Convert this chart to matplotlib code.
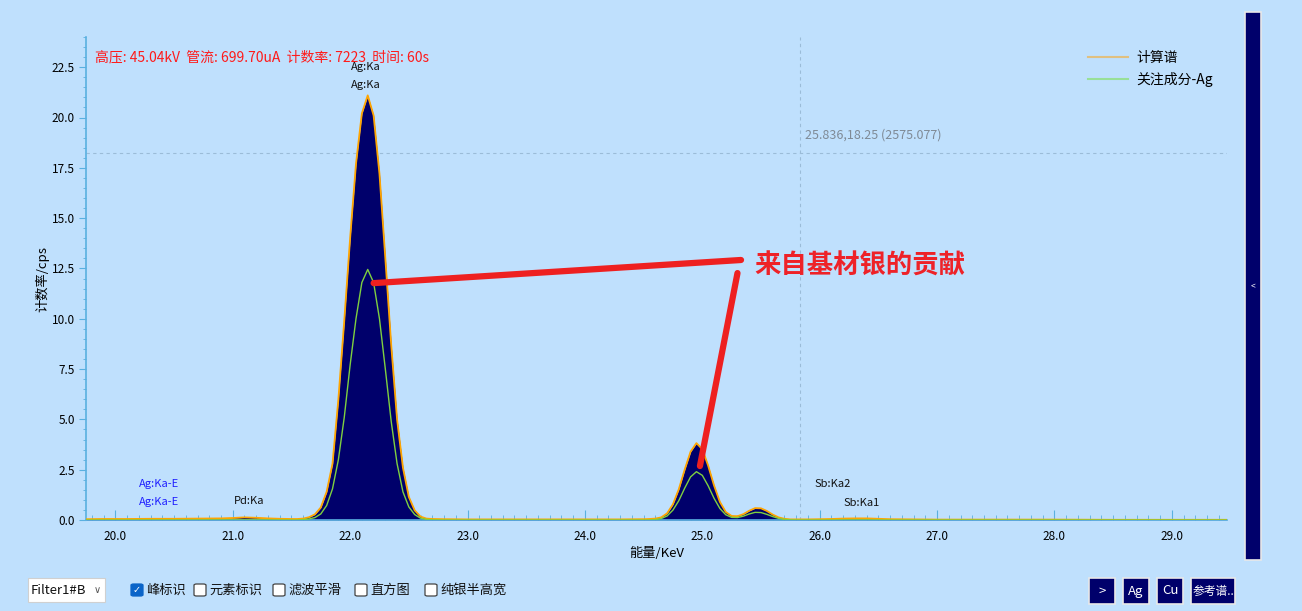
import matplotlib
matplotlib.use('Agg')
import matplotlib.pyplot as plt
from matplotlib.patches import Rectangle, FancyBboxPatch
from matplotlib.ticker import MultipleLocator, FormatStrFormatter

plt.rcParams['font.family'] = ['Noto Sans CJK SC', 'DejaVu Sans']

# 能量 (keV)
energy = [19.75, 19.90, 20.10, 20.30, 20.50, 20.70, 20.90, 21.00, 21.10, 21.20, 21.30, 21.40, 21.50, 21.55,
          21.60, 21.65, 21.70, 21.75, 21.80, 21.85, 21.90, 21.95, 22.00, 22.05, 22.10, 22.15, 22.20, 22.25,
          22.30, 22.35, 22.40, 22.45, 22.50, 22.55, 22.60, 22.65,
          22.70, 22.80, 23.00, 23.30, 23.60, 24.00, 24.30, 24.50, 24.55,
          24.60, 24.65, 24.70, 24.75, 24.80, 24.85, 24.90, 24.95, 25.00, 25.05, 25.10, 25.15, 25.20, 25.25,
          25.30, 25.35, 25.40, 25.45, 25.50, 25.55, 25.60, 25.65, 25.70, 25.75,
          25.80, 25.90, 26.00, 26.10, 26.20, 26.30, 26.40, 26.50, 26.60, 26.80, 27.00, 27.50, 28.00, 28.50,
          29.00, 29.47]

# 计数率 (cps) - 谱图
counts = [0.04, 0.05, 0.05, 0.06, 0.06, 0.07, 0.08, 0.10, 0.13, 0.11, 0.08, 0.06, 0.05, 0.05,
          0.07, 0.14, 0.28, 0.62, 1.40, 2.80, 6.00, 9.90, 14.0, 17.7, 20.2, 21.1, 20.1, 17.2,
          13.0, 8.70, 5.00, 2.60, 1.15, 0.48, 0.17, 0.07,
          0.05, 0.04, 0.03, 0.03, 0.03, 0.03, 0.03, 0.04, 0.05,
          0.07, 0.13, 0.33, 0.78, 1.53, 2.50, 3.39, 3.82, 3.52, 2.70, 1.72, 0.90, 0.40, 0.20,
          0.19, 0.29, 0.46, 0.59, 0.58, 0.45, 0.27, 0.13, 0.06, 0.03,
          0.03, 0.03, 0.04, 0.05, 0.07, 0.08, 0.08, 0.06, 0.04, 0.03, 0.02, 0.02, 0.02, 0.01,
          0.01, 0.01]

# 关注成分 - Ag
ag_counts = [0, 0, 0, 0, 0, 0, 0, 0, 0, 0, 0, 0, 0, 0,
             0.02, 0.05, 0.12, 0.30, 0.72, 1.55, 3.00, 5.10, 7.70, 10.0, 11.8, 12.45, 11.8, 10.0,
             7.50, 4.90, 2.80, 1.40, 0.65, 0.27, 0.09, 0.03,
             0.01, 0, 0, 0, 0, 0, 0, 0, 0,
             0.02, 0.07, 0.20, 0.49, 0.96, 1.58, 2.14, 2.40, 2.22, 1.70, 1.08, 0.57, 0.26, 0.13,
             0.12, 0.19, 0.30, 0.38, 0.37, 0.28, 0.17, 0.08, 0.03, 0.01,
             0, 0, 0, 0, 0, 0, 0, 0, 0, 0, 0, 0, 0, 0,
             0, 0]

# 峰标识
peak_labels = ['Ag:Ka', 'Ag:Ka', 'Ag:Ka-E', 'Ag:Ka-E', 'Pd:Ka', 'Sb:Ka2', 'Sb:Ka1']
peak_x = [22.13, 22.13, 20.37, 20.37, 21.14, 26.11, 26.36]
peak_y = [22.5, 21.6, 1.8, 0.9, 0.95, 1.8, 0.85]
peak_colors = ['#111111', '#111111', '#2020ff', '#2020ff', '#111111', '#111111', '#111111']

cursor_x, cursor_y = 25.836, 18.25

# 注释线
arrow1_x, arrow1_y = [22.20, 25.33], [11.77, 12.92]
arrow2_x, arrow2_y = [24.98, 25.30], [2.68, 12.27]

checkboxes = ['峰标识', '元素标识', '滤波平滑', '直方图', '纯银半高宽']
checkbox_px = [131, 194, 273, 355, 425]
buttons = ['>', 'Ag', 'Cu', '参考谱..']
button_px = [(1089, 26), (1123, 26), (1157, 26), (1191, 44)]

W, H = 1302, 611
bg = '#bfe0fd'
navy = '#00006b'
axis_blue = '#5ab0e0'

fig = plt.figure(figsize=(W / 100, H / 100), dpi=100, facecolor=bg)
ax = fig.add_axes([86 / W, 1 - 520 / H, (1227 - 86) / W, (520 - 37) / H])
ax.set_facecolor(bg)

ax.fill_between(energy, counts, 0, color=navy, lw=0, zorder=2)
ax.plot(energy, counts, color='#ffa500', lw=1.3, zorder=3, label='计算谱')
ax.plot(energy, ag_counts, color='#7ed040', lw=1.0, zorder=4, label='关注成分-Ag')

ax.set_xlim(19.75, 29.47)
ax.set_ylim(0, 24.0)

for s in ['top', 'right']:
    ax.spines[s].set_visible(False)
for s in ['left', 'bottom']:
    ax.spines[s].set_color(axis_blue)
    ax.spines[s].set_linewidth(1.2)

ax.xaxis.set_major_locator(MultipleLocator(1.0))
ax.xaxis.set_minor_locator(MultipleLocator(0.1))
ax.yaxis.set_major_locator(MultipleLocator(2.5))
ax.yaxis.set_minor_locator(MultipleLocator(0.5))
ax.xaxis.set_major_formatter(FormatStrFormatter('%.1f'))
ax.yaxis.set_major_formatter(FormatStrFormatter('%.1f'))
ax.tick_params(axis='x', which='major', direction='in', length=7, color=axis_blue, labelsize=8.5, pad=7)
ax.tick_params(axis='x', which='minor', direction='in', length=3.5, color=axis_blue)
ax.tick_params(axis='y', which='major', direction='out', length=5, color=axis_blue, labelsize=8.5, pad=3)
ax.tick_params(axis='y', which='minor', direction='out', length=2.5, color=axis_blue)

ax.set_xlabel('能量/KeV', fontsize=9.5, labelpad=3)
ax.set_ylabel('计数率/cps', fontsize=9.5, labelpad=2)

# 十字光标
ax.axvline(cursor_x, color='#9bbcd8', lw=0.8, ls=(0, (3, 3)), zorder=1)
ax.axhline(cursor_y, color='#9bbcd8', lw=0.8, ls=(0, (3, 3)), zorder=1)
ax.text(cursor_x + 0.04, cursor_y + 0.55, '25.836,18.25 (2575.077)', color='#7f8a96', fontsize=9,
        va='bottom', ha='left')

ax.text(0.008, 0.957, '高压: 45.04kV  管流: 699.70uA  计数率: 7223  时间: 60s',
        transform=ax.transAxes, color='#ff1a1a', fontsize=10, va='center', ha='left')

for lab, px, py, c in zip(peak_labels, peak_x, peak_y, peak_colors):
    ax.text(px, py, lab, color=c, fontsize=8, ha='center', va='center', zorder=5)

ax.plot(arrow1_x, arrow1_y, color='#ee2020', lw=4.5, solid_capstyle='round', zorder=6)
ax.plot(arrow2_x, arrow2_y, color='#ee2020', lw=4.5, solid_capstyle='round', zorder=6)
ax.text(25.44, 12.6, '来自基材银的贡献', color='#ee2228', fontsize=19, fontweight='bold',
        ha='left', va='center', zorder=6)

leg = ax.legend(loc='upper left', bbox_to_anchor=(1088 / W, 1 - 51 / H), bbox_transform=fig.transFigure,
                frameon=False, fontsize=10, handlelength=2.9, handletextpad=0.6, labelspacing=0.5,
                borderaxespad=0, borderpad=0)
leg.get_lines()[0].set_color('#e0c080')
leg.get_lines()[1].set_color('#98e098')
for ln in leg.get_lines():
    ln.set_linewidth(1.5)


def fx(x):
    return x / W


def fy(y):
    return 1 - y / H


# 右侧折叠栏
fig.add_artist(Rectangle((fx(1245), fy(560)), 16 / W, 548 / H, transform=fig.transFigure,
                         facecolor=navy, edgecolor='#e8e8e8', lw=1.2))
fig.text(fx(1253), fy(287), '<', color='white', fontsize=6, ha='center', va='center')

# 下拉框
fig.add_artist(Rectangle((fx(28), fy(602)), 77 / W, 24 / H, transform=fig.transFigure,
                         facecolor='white', edgecolor='#d0d0d0', lw=0.8))
fig.text(fx(31), fy(590), 'Filter1#B', color='#111111', fontsize=9.5, ha='left', va='center')
fig.text(fx(97), fy(590), '∨', color='#555555', fontsize=7, ha='center', va='center', family='DejaVu Sans')

# 复选框
for i, (lab, px) in enumerate(zip(checkboxes, checkbox_px)):
    checked = i == 0
    fig.add_artist(FancyBboxPatch((fx(px), fy(596)), 12 / W, 12 / H, transform=fig.transFigure,
                                  boxstyle='round,pad=0,rounding_size=0.002',
                                  facecolor='#0a64c8' if checked else 'white',
                                  edgecolor='#0a64c8' if checked else '#444444', lw=0.9))
    if checked:
        fig.text(fx(px + 6), fy(590), '✓', color='white', fontsize=7, ha='center', va='center',
                 family='DejaVu Sans')
    fig.text(fx(px + 15), fy(590), lab, color='#111111', fontsize=9.5, ha='left', va='center')

# 按钮
for lab, (px, w) in zip(buttons, button_px):
    fig.add_artist(Rectangle((fx(px), fy(604)), w / W, 26 / H, transform=fig.transFigure,
                             facecolor=navy, edgecolor='#e8e8e8', lw=1.2))
    fig.text(fx(px + w / 2), fy(591), lab, color='white', fontsize=8.5 if len(lab) > 2 else 9.5,
             ha='center', va='center')

fig.savefig('out.png', dpi=100, facecolor=bg)
